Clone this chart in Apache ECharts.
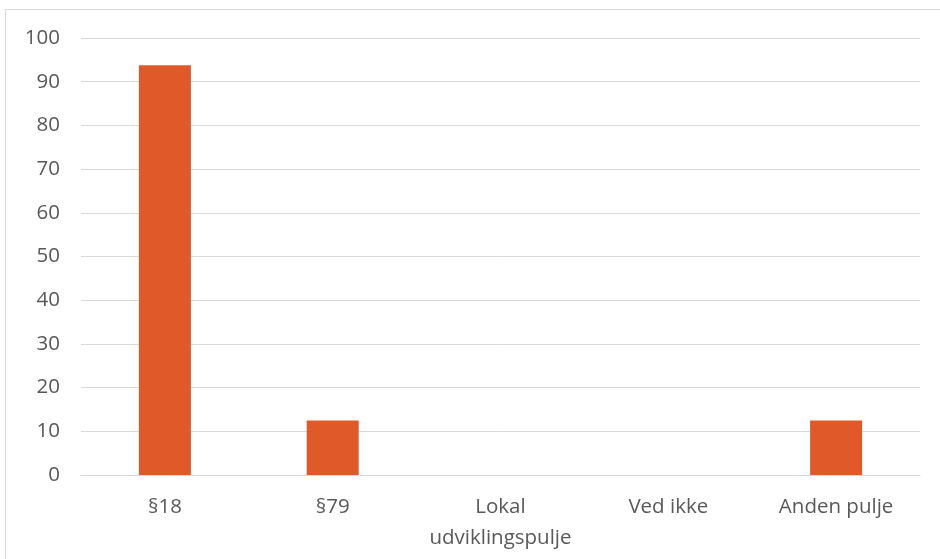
<!DOCTYPE html>
<html><head><meta charset="utf-8">
<script src="https://cdn.jsdelivr.net/npm/echarts@6/dist/echarts.min.js"></script>
<style>html,body{margin:0;padding:0;background:#fff}#c{width:940px;height:559px}</style>
</head><body><div id="c"></div>
<script>
const categories = ['§18', '§79', 'Lokal\nudviklingspulje', 'Ved ikke', 'Anden pulje'];
const values = [93.75, 12.5, 0, 0, 12.5];
const yTicks = {min: 0, max: 100, interval: 10};

const chart = echarts.init(document.getElementById('c'));
chart.setOption({
  animation: false,
  graphic: [{type: 'rect', shape: {x: 5.5, y: 9.5, width: 960, height: 600}, style: {fill: 'none', stroke: '#d9d9d9', lineWidth: 1}, z: -1}],
  grid: {left: 81, right: 20, top: 38, bottom: 84, containLabel: false},
  xAxis: {
    type: 'category', data: categories,
    axisLine: {show: true, lineStyle: {color: '#d9d9d9', width: 1}},
    axisTick: {show: false},
    axisLabel: {color: '#595959', fontFamily: 'Open Sans', fontSize: 20.5, margin: 17, lineHeight: 31, interval: 0}
  },
  yAxis: {
    type: 'value', min: yTicks.min, max: yTicks.max, interval: yTicks.interval,
    axisLine: {show: false}, axisTick: {show: false},
    splitLine: {lineStyle: {color: '#d9d9d9', width: 1}},
    axisLabel: {color: '#595959', fontFamily: 'Open Sans', fontSize: 20.5, margin: 21}
  },
  series: [{type: 'bar', data: values, barWidth: 52, itemStyle: {color: '#DF5A28'}}]
});
</script></body></html>
